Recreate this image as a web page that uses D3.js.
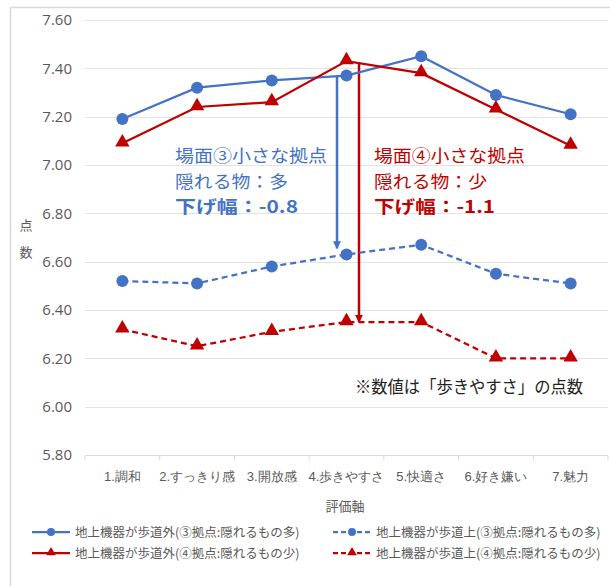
<!DOCTYPE html>
<html>
<head>
<meta charset="utf-8">
<script src="https://cdn.jsdelivr.net/npm/d3@7"></script>
<style>
  html, body { margin: 0; padding: 0; background: #fff; }
  svg { display: block; font-family: "Noto Sans CJK JP", "Noto Sans", sans-serif; }
</style>
</head>
<body>
<svg id="chart" width="610" height="586"></svg>
<script>
// Evaluation axes (x categories)
const categories = ["1.調和", "2.すっきり感", "3.開放感", "4.歩きやすさ", "5.快適さ", "6.好き嫌い", "7.魅力"];

// Scores per evaluation axis
const outsideMany = [7.19, 7.32, 7.35, 7.37, 7.45, 7.29, 7.21]; // 地上機器が歩道外(③)
const onMany      = [6.52, 6.51, 6.58, 6.63, 6.67, 6.55, 6.51]; // 地上機器が歩道上(③)
const outsideFew  = [7.09, 7.24, 7.26, 7.43, 7.38, 7.23, 7.08]; // 地上機器が歩道外(④)
const onFew       = [6.32, 6.25, 6.31, 6.35, 6.35, 6.20, 6.20]; // 地上機器が歩道上(④)

const yTicks = [5.8, 6.0, 6.2, 6.4, 6.6, 6.8, 7.0, 7.2, 7.4, 7.6];

const seriesNames = [
  "地上機器が歩道外(③拠点:隠れるもの多)",
  "地上機器が歩道上(③拠点:隠れるもの多)",
  "地上機器が歩道外(④拠点:隠れるもの少)",
  "地上機器が歩道上(④拠点:隠れるもの少)"
];

const BLUE = "#4472C4", RED = "#C00000";

const series = [
  { name: seriesNames[0], values: outsideMany, color: BLUE, dashed: false, marker: "circle" },
  { name: seriesNames[1], values: onMany,      color: BLUE, dashed: true,  marker: "circle" },
  { name: seriesNames[2], values: outsideFew,  color: RED,  dashed: false, marker: "triangle" },
  { name: seriesNames[3], values: onFew,       color: RED,  dashed: true,  marker: "triangle" }
];

const svg = d3.select("#chart");

// Outer chart frame
svg.append("rect")
  .attr("x", 10.5).attr("y", 7.5).attr("width", 620).attr("height", 600)
  .attr("fill", "none").attr("stroke", "#d9d9d9").attr("stroke-width", 1.5);

const plot = { left: 85, right: 608, top: 20, bottom: 455 };

const x = d3.scaleBand().domain(categories).range([plot.left, plot.right]);
const y = d3.scaleLinear().domain([5.8, 7.6]).range([plot.bottom, plot.top]);
const cx = c => x(c) + x.bandwidth() / 2;

// Horizontal gridlines
svg.append("g")
  .selectAll("line").data(yTicks.slice(1)).join("line")
  .attr("x1", plot.left).attr("x2", plot.right)
  .attr("y1", d => Math.round(y(d)) + 0.5).attr("y2", d => Math.round(y(d)) + 0.5)
  .attr("stroke", "#e3e3e3").attr("stroke-width", 1);

// Y axis labels
const yAxis = d3.axisLeft(y).tickValues(yTicks).tickFormat(d3.format(".2f")).tickSize(0).tickPadding(13);
const gy = svg.append("g").attr("transform", `translate(${plot.left},0)`).call(yAxis);
gy.select(".domain").remove();
gy.selectAll("text").attr("fill", "#595959").style("font-size", "15px")
  .style("font-family", "'Open Sans', 'Noto Sans', sans-serif");

// X axis with category dividers
const xAxis = d3.axisBottom(x).tickSize(0).tickPadding(16);
const gx = svg.append("g").attr("transform", `translate(0,${Math.round(plot.bottom) + 0.5})`).call(xAxis);
gx.select(".domain").attr("stroke", "#d9d9d9").attr("d", `M${plot.left},0H${plot.right}`);
gx.selectAll("text").attr("fill", "#595959").style("font-size", "13px");
gx.selectAll(".divider").data(d3.range(categories.length + 1)).join("line")
  .attr("class", "divider")
  .attr("x1", i => plot.left + i * x.bandwidth()).attr("x2", i => plot.left + i * x.bandwidth())
  .attr("y1", 0).attr("y2", 5).attr("stroke", "#d9d9d9");

// Axis titles
svg.append("text").attr("x", 345).attr("y", 511).attr("text-anchor", "middle")
  .attr("fill", "#595959").style("font-size", "13px").text("評価軸");
svg.append("text").attr("x", 26).attr("y", 230).attr("text-anchor", "middle")
  .attr("fill", "#595959").style("font-size", "13px").text("点");
svg.append("text").attr("x", 26).attr("y", 257).attr("text-anchor", "middle")
  .attr("fill", "#595959").style("font-size", "13px").text("数");

// Arrow markers
const defs = svg.append("defs");
[["arrowBlue", BLUE], ["arrowRed", RED]].forEach(([id, col]) => {
  defs.append("marker").attr("id", id)
    .attr("viewBox", "0 0 10 10").attr("refX", 9).attr("refY", 5)
    .attr("markerWidth", 3.2).attr("markerHeight", 3.2).attr("orient", "auto")
    .append("path").attr("d", "M0,0L10,5L0,10Z").attr("fill", col);
});

// Drop arrows at 4.歩きやすさ
const walkIdx = 3;
svg.append("line")
  .attr("x1", 337).attr("x2", 337)
  .attr("y1", y(outsideMany[walkIdx])).attr("y2", y(onMany[walkIdx]) - 6)
  .attr("stroke", BLUE).attr("stroke-width", 2.5).attr("marker-end", "url(#arrowBlue)");
svg.append("line")
  .attr("x1", 359).attr("x2", 359)
  .attr("y1", y(outsideFew[walkIdx]) + 1).attr("y2", y(onFew[walkIdx]))
  .attr("stroke", RED).attr("stroke-width", 2.5).attr("marker-end", "url(#arrowRed)");

// Lines and markers
const line = d3.line().x((d, i) => cx(categories[i])).y(d => y(d));
const tri = d3.symbol().type(d3.symbolTriangle).size(90);

series.forEach(s => {
  svg.append("path").datum(s.values)
    .attr("d", line).attr("fill", "none")
    .attr("stroke", s.color).attr("stroke-width", 2.25)
    .attr("stroke-dasharray", s.dashed ? "6,4" : null);
  const g = svg.append("g");
  if (s.marker === "circle") {
    g.selectAll("circle").data(s.values).join("circle")
      .attr("cx", (d, i) => cx(categories[i])).attr("cy", d => y(d))
      .attr("r", 6).attr("fill", s.color);
  } else {
    g.selectAll("path").data(s.values).join("path")
      .attr("d", tri)
      .attr("transform", (d, i) => `translate(${cx(categories[i])},${y(d) - 1})`)
      .attr("fill", s.color);
  }
});

// Annotations: one text element per line, stretched to the box widths
function note(xPos, color, lines, widths) {
  svg.append("g").selectAll("text").data(lines).join("text")
    .attr("x", xPos).attr("y", (d, i) => 162 + i * 25.5)
    .attr("fill", color).style("font-size", "17.5px")
    .style("font-weight", (d, i) => i === 2 ? "bold" : "normal")
    .attr("textLength", (d, i) => widths[i]).attr("lengthAdjust", "spacingAndGlyphs")
    .text(d => d);
}
note(175, BLUE, ["場面③小さな拠点", "隠れる物：多", "下げ幅：-0.8"], [152, 113, 123]);
note(374, RED,  ["場面④小さな拠点", "隠れる物：少", "下げ幅：-1.1"], [151, 113, 121]);

svg.append("text").attr("x", 355).attr("y", 393).attr("fill", "#222")
  .attr("textLength", 228).attr("lengthAdjust", "spacingAndGlyphs")
  .style("font-size", "17.5px").text("※数値は「歩きやすさ」の点数");

// Legend
const legendPos = [[32, 532], [333, 532], [32, 553], [333, 553]];
series.forEach((s, i) => {
  const [lx, ly] = legendPos[i];
  const g = svg.append("g").attr("transform", `translate(${lx},${ly})`);
  g.append("line").attr("x1", 0).attr("x2", 38).attr("y1", 0).attr("y2", 0)
    .attr("stroke", s.color).attr("stroke-width", 2.25)
    .attr("stroke-dasharray", s.dashed ? "5,3" : null);
  if (s.marker === "circle") {
    g.append("circle").attr("cx", 19).attr("cy", 0).attr("r", 4).attr("fill", s.color);
  } else {
    g.append("path").attr("d", d3.symbol().type(d3.symbolTriangle).size(40))
      .attr("transform", "translate(19,-0.5)").attr("fill", s.color);
  }
  g.append("text").attr("x", 43).attr("y", 4.5).attr("fill", "#595959")
    .style("font-size", "12.5px").text(s.name);
});
</script>
</body>
</html>
